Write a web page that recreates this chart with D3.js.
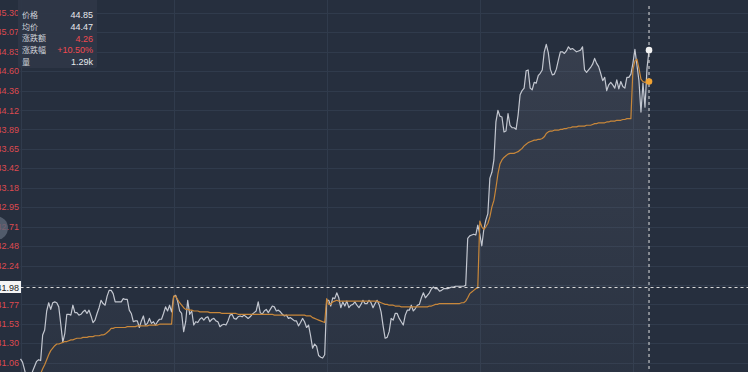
<!DOCTYPE html>
<html><head><meta charset="utf-8">
<script src="https://cdn.jsdelivr.net/npm/d3@7/dist/d3.min.js"></script>
<style>
html,body{margin:0;padding:0;background:#262f3e;overflow:hidden;}
svg{display:block;}
text{font-family:"Liberation Sans",Arial,"Noto Sans CJK SC",sans-serif;}
</style></head>
<body><svg id="c" width="748" height="372"></svg>
<script>
// ---- data ----
const days = 5;
const pointsPerDay = 76;
const prevClose = 40.59;
const prices = [
41.11,41.07,40.98,40.88,40.85,40.88,40.96,41.02,41.08,41.10,
41.09,41.40,41.46,41.69,41.79,41.71,41.79,41.80,41.79,41.74,
41.53,41.31,41.42,41.65,41.65,41.64,41.76,41.67,41.67,41.64,
41.65,41.68,41.70,41.66,41.70,41.63,41.55,41.58,41.66,41.73,
41.82,41.78,41.76,41.87,41.94,41.94,41.90,41.80,41.80,41.80,
41.80,41.84,41.83,41.83,41.70,41.66,41.56,41.57,41.57,41.49,
41.57,41.63,41.52,41.54,41.60,41.54,41.56,41.52,41.56,41.59,
41.59,41.66,41.74,41.69,41.76,41.68,41.86,41.88,41.81,41.69,
41.66,41.44,41.56,41.82,41.65,41.69,41.52,41.56,41.55,41.59,
41.61,41.58,41.61,41.62,41.56,41.59,41.60,41.57,41.56,41.50,
41.52,41.53,41.52,41.57,41.64,41.65,41.60,41.59,41.62,41.63,
41.62,41.64,41.62,41.60,41.62,41.65,41.67,41.69,41.80,41.67,
41.65,41.69,41.71,41.67,41.71,41.75,41.74,41.69,41.70,41.68,
41.65,41.63,41.64,41.60,41.61,41.59,41.57,41.57,41.51,41.55,
41.60,41.56,41.49,41.52,41.39,41.24,41.29,41.26,41.15,41.13,
41.12,41.16,41.82,41.82,41.75,41.85,41.84,41.91,41.85,41.73,
41.80,41.75,41.81,41.73,41.76,41.77,41.80,41.76,41.73,41.77,
41.82,41.78,41.78,41.82,41.79,41.73,41.78,41.82,41.77,41.68,
41.51,41.36,41.37,41.44,41.60,41.58,41.66,41.66,41.60,41.56,
41.52,41.64,41.70,41.70,41.76,41.69,41.72,41.76,41.77,41.85,
41.91,41.85,41.88,41.91,41.96,41.98,41.96,41.96,41.93,41.94,
41.96,41.96,41.96,41.97,41.98,41.98,41.99,41.99,41.99,41.99,
41.99,42.00,42.57,42.60,42.61,42.62,42.61,42.73,42.62,42.48,
42.68,42.79,42.87,43.30,43.37,43.52,43.98,44.12,44.05,44.04,
43.86,43.87,44.08,43.94,43.91,43.91,43.89,44.06,44.31,44.36,
44.39,44.60,44.61,44.39,44.37,44.46,44.45,44.54,44.57,44.61,
44.83,44.92,44.82,44.62,44.55,44.56,44.62,44.73,44.83,44.83,
44.81,44.84,44.89,44.86,44.87,44.85,44.83,44.84,44.85,44.89,
44.61,44.58,44.61,44.64,44.68,44.75,44.69,44.65,44.57,44.48,
44.52,44.36,44.43,44.46,44.43,44.39,44.49,44.38,44.47,44.41,
44.39,44.52,44.52,44.56,44.69,44.86,44.67,44.48,44.10,44.45,
44.16,44.63,44.85
];
const avgPrices = [
40.80,40.78,40.76,40.75,40.74,40.74,40.75,40.78,40.83,40.88,
40.93,40.99,41.04,41.10,41.16,41.21,41.24,41.27,41.29,41.29,
41.30,41.31,41.32,41.32,41.33,41.34,41.34,41.35,41.36,41.36,
41.36,41.37,41.37,41.37,41.38,41.38,41.38,41.39,41.39,41.39,
41.40,41.40,41.41,41.43,41.45,41.48,41.48,41.49,41.49,41.49,
41.49,41.49,41.49,41.50,41.50,41.50,41.50,41.50,41.51,41.51,
41.51,41.51,41.51,41.51,41.52,41.52,41.52,41.52,41.52,41.53,
41.53,41.53,41.53,41.53,41.53,41.53,
41.87,41.87,41.83,41.79,
41.76,41.73,41.71,41.71,41.70,41.70,41.69,41.69,41.69,41.68,
41.68,41.68,41.68,41.68,41.67,41.67,41.67,41.67,41.67,41.67,
41.66,41.66,41.66,41.66,41.66,41.66,41.66,41.66,41.65,41.65,
41.65,41.65,41.65,41.65,41.65,41.65,41.65,41.65,41.65,41.65,
41.65,41.65,41.65,41.65,41.65,41.65,41.64,41.64,41.64,41.64,
41.64,41.64,41.64,41.64,41.64,41.64,41.64,41.64,41.64,41.64,
41.64,41.64,41.63,41.63,41.63,41.61,41.60,41.59,41.58,41.57,
41.56,41.55,
41.84,41.77,41.77,41.80,41.81,41.82,41.81,41.81,
41.81,41.81,41.81,41.81,41.81,41.81,41.81,41.81,41.81,41.81,
41.81,41.81,41.81,41.81,41.81,41.81,41.81,41.81,41.80,41.79,
41.78,41.77,41.77,41.76,41.76,41.76,41.75,41.75,41.75,41.74,
41.74,41.74,41.74,41.74,41.74,41.74,41.74,41.74,41.74,41.74,
41.74,41.74,41.74,41.75,41.75,41.76,41.77,41.77,41.78,41.78,
41.78,41.78,41.78,41.78,41.78,41.78,41.78,41.78,41.78,41.79,
41.79,41.81,41.85,41.90,41.92,41.94,41.96,41.97,
42.78,42.71,42.68,42.71,42.75,42.83,42.95,43.03,43.18,43.35,43.47,43.52,
43.55,43.57,43.59,43.60,43.60,43.60,43.61,43.62,43.64,43.66,
43.69,43.71,43.73,43.74,43.75,43.76,43.76,43.77,43.77,43.78,
43.80,43.84,43.86,43.87,43.87,43.88,43.88,43.88,43.89,43.89,
43.90,43.90,43.91,43.91,43.92,43.92,43.92,43.93,43.93,43.93,
43.93,43.94,43.94,43.94,43.95,43.96,43.96,43.97,43.97,43.97,
43.97,43.98,43.98,43.99,43.99,43.99,44.00,44.00,44.00,44.01,
44.01,44.02,44.02,44.02,
44.61,44.72,44.74,44.63,44.50,44.47,44.46,44.46,44.47
];
const tickLabels = ["45.30","45.07","44.83","44.60","44.36","44.12","43.89","43.65","43.42","43.18","42.95","42.71","42.48","42.24","42.00","41.77","41.53","41.30","41.06"];
const tooltipLabels = ["价格","均价","涨跌额","涨跌幅","量"];
const tooltipValues = ["44.85","44.47","4.26","+10.50%","1.29k"];
const tooltipUp = [false,false,true,true,false];
const crosshairPrice = 41.98;

// ---- drawing ----
const W = 748, H = 372;
const svg = d3.select("#c");
const x = d3.scaleLinear().domain([0, days*pointsPerDay]).range([20.5, 20.5 + 153.1*days]);
const y = d3.scaleLinear().domain([41.06, 45.30]).range([363, 13]);

svg.append("rect").attr("width", W).attr("height", H).attr("fill", "#262f3e");

const defs = svg.append("defs");
const grad = defs.append("linearGradient").attr("id","areaGrad")
  .attr("gradientUnits","userSpaceOnUse").attr("x1",0).attr("x2",0).attr("y1",40).attr("y2",372);
grad.append("stop").attr("offset","0%").attr("stop-color","#8a8a9a").attr("stop-opacity",0.17);
grad.append("stop").attr("offset","100%").attr("stop-color","#8a8a9a").attr("stop-opacity",0.05);

// horizontal grid
const tickVals = tickLabels.map(Number);
svg.append("g").selectAll("line").data(tickVals).join("line")
  .attr("x1", 20.5).attr("x2", W)
  .attr("y1", d => Math.round(y(d)) + 0.5).attr("y2", d => Math.round(y(d)) + 0.5)
  .attr("stroke", "#303b4c").attr("stroke-width", 1);
// vertical day separators
svg.append("g").selectAll("line").data(d3.range(days)).join("line")
  .attr("x1", d => Math.round(x(d*pointsPerDay)) + 0.5).attr("x2", d => Math.round(x(d*pointsPerDay)) + 0.5)
  .attr("y1", 0).attr("y2", H)
  .attr("stroke", "#303b4c").attr("stroke-width", 1);

// y labels (the one hidden by the crosshair label is skipped)
const visibleTicks = tickLabels.filter(d => Math.abs(y(+d) - y(crosshairPrice)) > 8);
svg.append("g").selectAll("text").data(visibleTicks).join("text")
  .attr("x", 19).attr("y", d => y(+d)).attr("dy", "0.35em")
  .attr("text-anchor", "end").attr("font-size", 9).attr("fill", d => (+d > prevClose ? "#dd4a50" : "#3cb371"))
  .text(d => d);

const plot = svg.append("g");
const area = d3.area().x((d,i) => x(i)).y0(H + 10).y1(d => y(d));
plot.append("path").datum(prices).attr("d", area).attr("fill", "url(#areaGrad)");
const line = d3.line().x((d,i) => x(i)).y(d => y(d));
plot.append("path").datum(prices).attr("d", line).attr("fill","none")
  .attr("stroke","#c3c7d0").attr("stroke-width",1.2).attr("stroke-linejoin","round");
plot.append("path").datum(avgPrices).attr("d", line).attr("fill","none")
  .attr("stroke","#c8873a").attr("stroke-width",1.2).attr("stroke-linejoin","round");

// crosshair
const lastI = prices.length - 1;
const cx = x(lastI);
svg.append("line").attr("x1", cx).attr("x2", cx).attr("y1", 6).attr("y2", H)
  .attr("stroke","#e0e0e0").attr("stroke-width",1).attr("stroke-dasharray","3,3");
const cy = Math.round(y(crosshairPrice)) + 0.5;
svg.append("line").attr("x1", 20.5).attr("x2", W).attr("y1", cy).attr("y2", cy)
  .attr("stroke","#d8d8d8").attr("stroke-width",1).attr("stroke-dasharray","3,3");

// end dots
svg.append("circle").attr("cx", cx).attr("cy", y(prices[lastI])).attr("r", 3.3).attr("fill","#f2f2f2");
svg.append("circle").attr("cx", cx).attr("cy", y(avgPrices[lastI])).attr("r", 3.3).attr("fill","#f0a232");

// crosshair y label
svg.append("rect").attr("x", 0).attr("y", cy - 6.5).attr("width", 21).attr("height", 12).attr("fill","#f4f4f4");
svg.append("text").attr("x", 19).attr("y", cy).attr("dy","0.35em").attr("text-anchor","end")
  .attr("font-size", 9).attr("fill","#222").text(crosshairPrice.toFixed(2));

// side handle
svg.append("circle").attr("cx", -4).attr("cy", 228).attr("r", 12).attr("fill","#5d6677").attr("opacity",0.8);

// tooltip
const tip = svg.append("g");
tip.append("rect").attr("x", 18).attr("y", -4).attr("width", 79).attr("height", 72).attr("rx", 2)
  .attr("fill","#2e3747").attr("opacity",0.95);
tip.selectAll("text.l").data(tooltipLabels).join("text").attr("class","l")
  .attr("x", 22).attr("y", (d,i) => 15 + i*11.7).attr("dy","0.35em")
  .attr("font-size", 8).attr("fill","#cfd2d8").text(d => d);
tip.selectAll("text.v").data(tooltipValues).join("text").attr("class","v")
  .attr("x", 93).attr("y", (d,i) => 15 + i*11.7).attr("dy","0.35em").attr("text-anchor","end")
  .attr("font-size", 9).attr("fill", (d,i) => tooltipUp[i] ? "#f04a50" : "#e6e8ec").text(d => d);
</script></body></html>
